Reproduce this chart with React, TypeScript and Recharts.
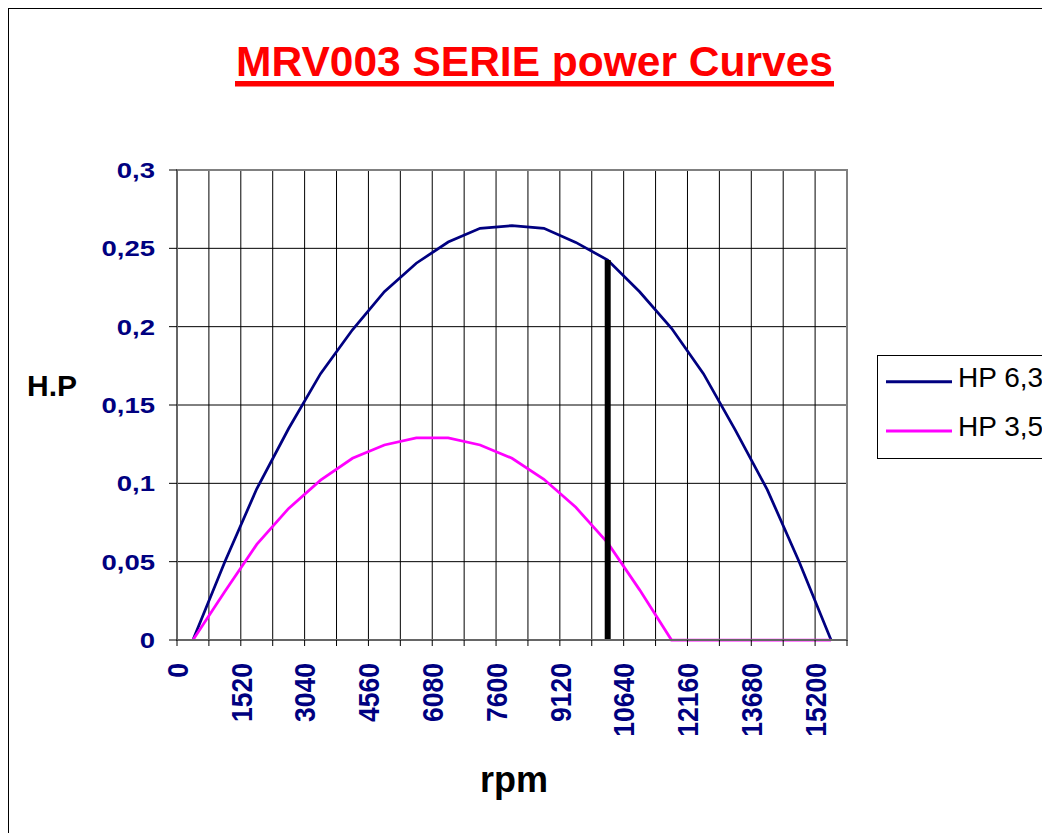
import {
  LineChart,
  Line,
  XAxis,
  YAxis,
  CartesianGrid,
  ReferenceLine,
  ReferenceArea
} from "recharts";

// rpm sample points (centre of each 760 rpm band)
const rpm = [
  380, 1140, 1900, 2660, 3420, 4180, 4940, 5700, 6460, 7220, 7980,
  8740, 9500, 10260, 11020, 11780, 12540, 13300, 14060, 14820, 15580
];
const hp63 = [
  0, 0.05, 0.0965, 0.135, 0.17, 0.198, 0.2223, 0.2405, 0.254, 0.2628, 0.2645,
  0.2628, 0.2538, 0.2425, 0.2223, 0.199, 0.17, 0.134, 0.096, 0.05, 0
];
const hp35 = [
  0, 0.031, 0.061, 0.084, 0.102, 0.116, 0.1245, 0.129, 0.129, 0.1245, 0.116,
  0.1026, 0.0847, 0.062, 0.032, 0, 0, 0, 0, 0, 0
];
const xTicks = [
  0, 760, 1520, 2280, 3040, 3800, 4560, 5320, 6080, 6840, 7600, 8360, 9120,
  9880, 10640, 11400, 12160, 12920, 13680, 14440, 15200, 15960
];
const xLabels = [0, 1520, 3040, 4560, 6080, 7600, 9120, 10640, 12160, 13680, 15200];
const yTicks = [0, 0.05, 0.1, 0.15, 0.2, 0.25, 0.3];
const markerRpm = 10260;
const markerHp = 0.2425;

const data = rpm.map((r, i) => ({ rpm: r, a: hp63[i], b: hp35[i] }));

const NAVY = "#000080";
const PINK = "#FF00FF";
const FONT = "'Liberation Sans', Arial, sans-serif";

function XTick({ x, y, payload }: any) {
  if (!xLabels.includes(payload.value)) return null;
  return (
    <g transform={`translate(${x},${y + 17})`}>
      <text
        transform="rotate(-90) scale(1,1.12)"
        textAnchor="end"
        dy="0.36em"
        fill={NAVY}
        fontFamily={FONT}
        fontWeight="bold"
        fontSize={26.5}
      >
        {payload.value}
      </text>
    </g>
  );
}

function YTick({ x, y, payload }: any) {
  return (
    <g transform={`translate(${x},${y})`}>
      <text
        transform="scale(1.25,1)"
        textAnchor="end"
        dy="0.36em"
        fill={NAVY}
        fontFamily={FONT}
        fontWeight="bold"
        fontSize={22}
      >
        {String(payload.value).replace(".", ",")}
      </text>
    </g>
  );
}

export default function App() {
  return (
    <>
      <style>{`html,body{overflow:hidden}`}</style>
      <div
        style={{
          position: "relative",
          width: 1042,
          height: 825,
          borderLeft: "1px solid #000",
          borderTop: "1px solid #000",
          boxSizing: "border-box",
          background: "#fff"
        }}
      >
        <div style={{ position: "absolute", left: -1, top: -1 }}>
          <LineChart
            width={1042}
            height={825}
            data={data}
            margin={{ top: 162, right: 203, left: 0, bottom: 0 }}
          >
            <CartesianGrid stroke="#000" strokeWidth={1} />
            <ReferenceArea
              x1={0}
              x2={15960}
              y1={0}
              y2={0.3}
              fill="none"
              stroke="#808080"
              strokeWidth={2}
            />
            <XAxis
              dataKey="rpm"
              type="number"
              domain={[0, 15960]}
              ticks={xTicks}
              interval={0}
              height={193}
              tickSize={6}
              tickMargin={0}
              axisLine={{ stroke: "#666", strokeWidth: 2 }}
              tickLine={{ stroke: "#000" }}
              tick={<XTick />}
            />
            <YAxis
              type="number"
              domain={[0, 0.3]}
              ticks={yTicks}
              interval={0}
              width={169}
              tickSize={8}
              tickMargin={14}
              axisLine={{ stroke: "#666", strokeWidth: 2 }}
              tickLine={{ stroke: "#000" }}
              tick={<YTick />}
            />
            <Line
              dataKey="a"
              name="HP 6,3"
              stroke={NAVY}
              strokeWidth={2.75}
              dot={false}
              type="linear"
              isAnimationActive={false}
            />
            <Line
              dataKey="b"
              name="HP 3,5"
              stroke={PINK}
              strokeWidth={2.75}
              dot={false}
              type="linear"
              isAnimationActive={false}
            />
            <ReferenceLine
              segment={[
                { x: markerRpm, y: 0 },
                { x: markerRpm, y: markerHp }
              ]}
              stroke="#000"
              strokeWidth={6}
              ifOverflow="visible"
            />
          </LineChart>
          <svg
            width={1042}
            height={825}
            style={{ position: "absolute", left: 0, top: 0, pointerEvents: "none" }}
          >
            <text
              x={526.5}
              y={67.7}
              textAnchor="middle"
              fill="#FF0000"
              fontFamily={FONT}
              fontWeight="bold"
              fontSize={42.5}
            >
              MRV003 SERIE power Curves
            </text>
            <rect x={227} y={73} width={599} height={5.5} fill="#FF0000" />
            <text
              x={44}
              y={388}
              textAnchor="middle"
              fill="#000"
              fontFamily={FONT}
              fontWeight="bold"
              fontSize={30}
            >
              H.P
            </text>
            <text
              x={506}
              y={784}
              textAnchor="middle"
              fill="#000"
              fontFamily={FONT}
              fontWeight="bold"
              fontSize={36}
            >
              rpm
            </text>
            <rect x={869.5} y={347.5} width={200} height={103} fill="#fff" stroke="#000" strokeWidth={1} />
            <line x1={878} x2={944} y1={373.7} y2={373.7} stroke={NAVY} strokeWidth={3} />
            <text x={950} y={378.7} fill="#000" fontFamily={FONT} fontSize={28}>
              HP 6,3
            </text>
            <line x1={878} x2={944} y1={423} y2={423} stroke={PINK} strokeWidth={3} />
            <text x={950} y={428} fill="#000" fontFamily={FONT} fontSize={28}>
              HP 3,5
            </text>
          </svg>
        </div>
      </div>
    </>
  );
}
